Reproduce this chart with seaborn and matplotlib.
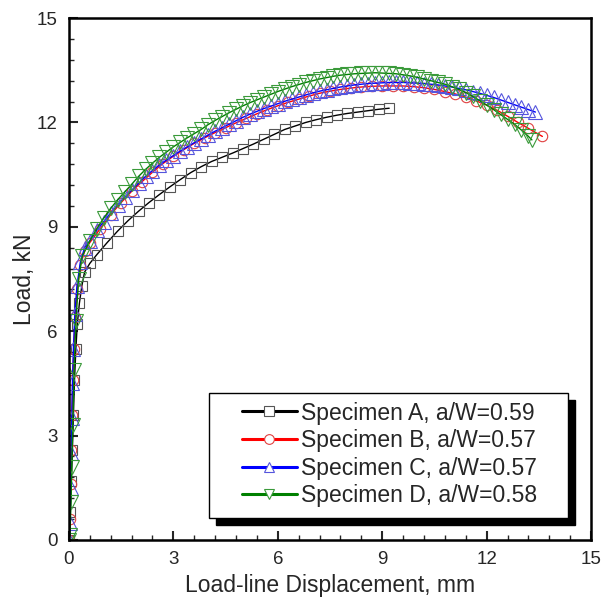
import numpy as np
import pandas as pd
import matplotlib
matplotlib.use("Agg")
import matplotlib.pyplot as plt
from matplotlib.lines import Line2D
from matplotlib.patches import Rectangle
import seaborn as sns

# Specimen A (black squares)
a_x = [0.0, 0.04, 0.07, 0.10, 0.13, 0.16, 0.20, 0.24, 0.30, 0.37, 0.45,
       0.6, 0.8, 1.1, 1.4, 1.7, 2.0, 2.3, 2.6, 2.9, 3.2, 3.5, 3.8, 4.1, 4.4,
       4.7, 5.0, 5.3, 5.6, 5.9, 6.2, 6.5, 6.8, 7.1, 7.4, 7.7, 8.0, 8.3, 8.6,
       8.9, 9.2]
a_y = [0.0, 0.8, 1.7, 2.6, 3.6, 4.6, 5.5, 6.2, 6.8, 7.3, 7.7,
       7.95, 8.2, 8.55, 8.88, 9.18, 9.45, 9.7, 9.93, 10.15, 10.36, 10.56, 10.73, 10.88, 11.0,
       11.12, 11.25, 11.38, 11.52, 11.66, 11.8, 11.9, 12.0, 12.08, 12.15, 12.21, 12.26, 12.3, 12.34,
       12.38, 12.41]

# Specimen B (red circles)
b_x = [0.0, 0.03, 0.05, 0.07, 0.09, 0.11, 0.14, 0.18, 0.24, 0.33, 0.45,
       0.6, 0.9, 1.2, 1.5, 1.8, 2.1, 2.4, 2.7, 3.0, 3.3, 3.6, 3.9, 4.2, 4.5,
       4.8, 5.1, 5.4, 5.7, 6.0, 6.3, 6.6, 6.9, 7.2, 7.5, 7.8, 8.1, 8.4, 8.7,
       9.0, 9.3, 9.6, 9.9, 10.2, 10.5, 10.8, 11.1, 11.4, 11.7, 12.0, 12.3,
       12.6, 12.9, 13.2, 13.6]
b_y = [0.0, 0.6, 1.6, 2.6, 3.6, 4.6, 5.5, 6.4, 7.2, 7.9, 8.3,
       8.55, 8.95, 9.35, 9.7, 10.02, 10.3, 10.57, 10.82, 11.03, 11.22, 11.4, 11.56, 11.71, 11.85,
       11.99, 12.12, 12.25, 12.37, 12.48, 12.58, 12.67, 12.76, 12.84, 12.9, 12.95, 12.99, 13.02, 13.04,
       13.05, 13.05, 13.05, 13.03, 13.0, 12.95, 12.89, 12.82, 12.73, 12.62, 12.5, 12.35,
       12.18, 12.0, 11.83, 11.6]

# Specimen C (blue up-triangles)
c_x = [0.0, 0.03, 0.05, 0.06, 0.08, 0.10, 0.13, 0.17, 0.23, 0.33, 0.45,
       0.6, 0.8, 1.0, 1.2, 1.4, 1.6, 1.8, 2.0, 2.2, 2.4, 2.6, 2.8, 3.0, 3.2,
       3.4, 3.6, 3.8, 4.0, 4.2, 4.4, 4.6, 4.8, 5.0, 5.2, 5.4, 5.6, 5.8, 6.0,
       6.2, 6.4, 6.6, 6.8, 7.0, 7.2, 7.4, 7.6, 7.8, 8.0, 8.2, 8.4, 8.6, 8.8,
       9.0, 9.2, 9.4, 9.6, 9.8, 10.0, 10.2, 10.4, 10.6, 10.8, 11.0, 11.2,
       11.4, 11.6, 11.8, 12.0, 12.2, 12.4, 12.6, 12.8, 13.0, 13.2, 13.4]
c_y = [0.0, 0.5, 1.5, 2.5, 3.5, 4.5, 5.5, 6.5, 7.3, 8.0, 8.4,
       8.6, 8.9, 9.15, 9.4, 9.63, 9.85, 10.05, 10.25, 10.45, 10.62, 10.78, 10.92, 11.05, 11.18,
       11.3, 11.42, 11.53, 11.64, 11.75, 11.85, 11.95, 12.05, 12.15, 12.24, 12.32, 12.4, 12.47, 12.54,
       12.61, 12.67, 12.73, 12.79, 12.85, 12.9, 12.94, 12.98, 13.02, 13.05, 13.08, 13.1, 13.12, 13.13,
       13.14, 13.15, 13.15, 13.15, 13.14, 13.13, 13.12, 13.1, 13.08, 13.05, 13.02, 12.98,
       12.94, 12.89, 12.84, 12.78, 12.72, 12.65, 12.58, 12.51, 12.44, 12.37, 12.3]

# Specimen D (green down-triangles)
d_x = [0.0, 0.03, 0.06, 0.08, 0.11, 0.15, 0.20, 0.28, 0.38,
       0.6, 0.8, 1.0, 1.2, 1.4, 1.6, 1.8, 2.0, 2.2, 2.4, 2.6, 2.8, 3.0, 3.2,
       3.4, 3.6, 3.8, 4.0, 4.2, 4.4, 4.6, 4.8, 5.0, 5.2, 5.4, 5.6, 5.8, 6.0,
       6.2, 6.4, 6.6, 6.8, 7.0, 7.2, 7.4, 7.6, 7.8, 8.0, 8.2, 8.4, 8.6, 8.8,
       9.0, 9.2, 9.4, 9.6, 9.8, 10.0, 10.2, 10.4, 10.6, 10.8, 11.0, 11.2,
       11.4, 11.6, 11.8, 12.0, 12.2, 12.4, 12.6, 12.8, 13.0, 13.2, 13.3]
d_y = [0.0, 0.15, 1.1, 2.1, 3.3, 4.9, 6.3, 7.5, 8.15,
       8.6, 8.95, 9.25, 9.53, 9.78, 10.0, 10.22, 10.45, 10.65, 10.83, 11.0, 11.15, 11.3, 11.43,
       11.56, 11.68, 11.8, 11.94, 12.06, 12.17, 12.28, 12.38, 12.48, 12.57, 12.65, 12.73, 12.81, 12.89,
       12.96, 13.03, 13.09, 13.15, 13.2, 13.25, 13.29, 13.33, 13.36, 13.38, 13.4, 13.41, 13.42, 13.43,
       13.42, 13.41, 13.4, 13.37, 13.34, 13.3, 13.25, 13.2, 13.15, 13.1, 13.03, 12.95,
       12.86, 12.75, 12.63, 12.5, 12.37, 12.23, 12.09, 11.95, 11.78, 11.6, 11.5]

labels = ["Specimen A, a/W=0.59", "Specimen B, a/W=0.57",
          "Specimen C, a/W=0.57", "Specimen D, a/W=0.58"]
xs = [a_x, b_x, c_x, d_x]
ys = [a_y, b_y, c_y, d_y]

colors = ["black", "red", "blue", "#008000"]
edge_colors = ["#555555", "#e04040", "#5555dd", "#3a9a3a"]
markers = ["s", "o", "^", "v"]
msizes = [7.5, 7.5, 9.5, 9.5]

sns.set_style("white")
plt.rcParams['font.family'] = ['Liberation Sans', 'DejaVu Sans']

fig = plt.figure(figsize=(6.10, 6.04), dpi=100)
ax = fig.add_axes([0.113, 0.106, 0.856, 0.864])

for x, y, lab, c, ec, m, ms in zip(xs, ys, labels, colors, edge_colors, markers, msizes):
    df = pd.DataFrame({"x": x, "y": y})
    sns.lineplot(data=df, x="x", y="y", ax=ax, sort=False, estimator=None,
                 color=c, linewidth=1.0, marker=m, markersize=ms,
                 markerfacecolor="none", markeredgecolor=ec, markeredgewidth=0.8)

ax.set_xlim(0, 15)
ax.set_ylim(0, 15)
ax.set_xticks([0, 3, 6, 9, 12, 15])
ax.set_yticks([0, 3, 6, 9, 12, 15])
ax.set_xticks(np.arange(0, 15.01, 0.6), minor=True)
ax.set_yticks(np.arange(0, 15.01, 0.6), minor=True)
ax.tick_params(which="major", direction="in", length=6.5, width=1.5,
               labelsize=13.5, pad=8, top=False, right=False, bottom=True, left=True)
ax.tick_params(which="minor", direction="in", length=3.6, width=1.0,
               top=False, right=False, bottom=True, left=True)
for s in ax.spines.values():
    s.set_linewidth(1.8)
    s.set_color("black")

ax.set_xlabel("Load-line Displacement, mm", fontsize=16.5, labelpad=4)
ax.set_ylabel("Load, kN", fontsize=16.5, labelpad=1)

# legend box with solid black shadow
bx0, by0, bw, bh = 0.268, 0.042, 0.688, 0.240
sh = 0.0135
ax.add_patch(Rectangle((bx0 + sh, by0 - sh), bw, bh, transform=ax.transAxes,
                       facecolor="black", edgecolor="black", zorder=9, clip_on=False))
ax.add_patch(Rectangle((bx0, by0), bw, bh, transform=ax.transAxes,
                       facecolor="white", edgecolor="black", linewidth=1.0,
                       zorder=9.5, clip_on=False))

leg_handles = []
for lab, c, ec, m in zip(labels, colors, edge_colors, markers):
    leg_handles.append(Line2D([0], [0], color=c, linewidth=2.2, marker=m, markersize=7,
                              markerfacecolor="white", markeredgecolor=ec,
                              markeredgewidth=0.8, label=lab))
leg = ax.legend(handles=leg_handles, loc="center", bbox_to_anchor=(0.614, 0.164),
                fontsize=16.5, frameon=False,
                handlelength=2.4, handletextpad=0.2, labelspacing=0.2,
                borderpad=0.0, borderaxespad=0.0)
leg.set_zorder(10)

fig.savefig("out.png", dpi=100)
